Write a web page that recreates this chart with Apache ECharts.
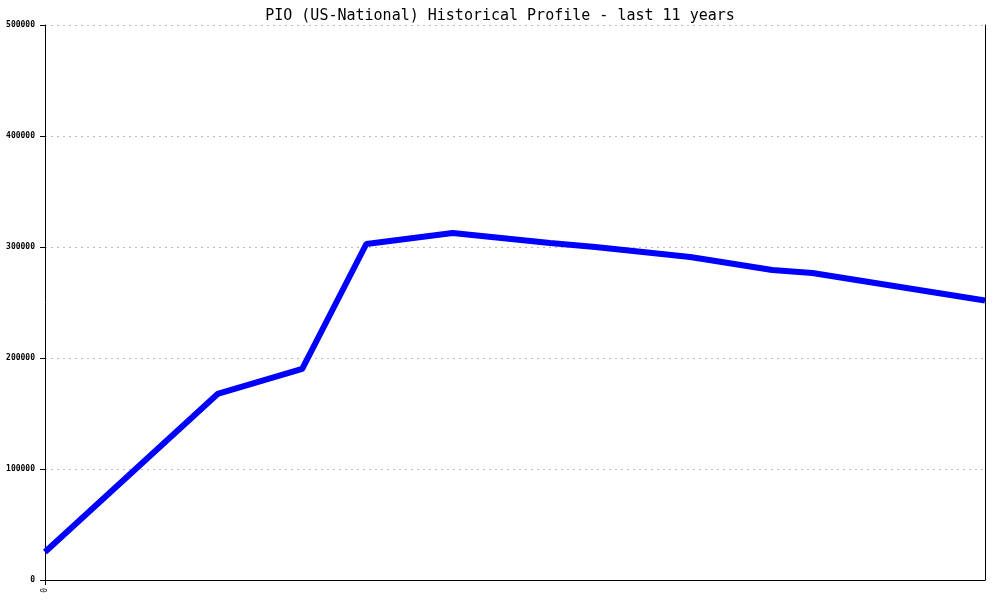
<!DOCTYPE html>
<html>
<head>
<meta charset="utf-8">
<script src="https://cdn.jsdelivr.net/npm/echarts@6/dist/echarts.min.js"></script>
<style>html,body{margin:0;padding:0;background:#fff}#c{width:1000px;height:600px}</style>
</head>
<body>
<div id="c"></div>
<script>
const titleText = 'PIO (US-National) Historical Profile - last 11 years';
// x in years since start, y values
const xYears = [0, 2.02, 3.01, 3.76, 4.77, 5.91, 6.44, 7.55, 8.51, 8.98, 11];
const yValues = [25200, 167600, 190100, 302700, 312600, 303600, 300000, 291000, 279300, 276600, 251800];
const yTicks = [0, 100000, 200000, 300000, 400000, 500000];

const chart = echarts.init(document.getElementById('c'), null, {renderer: 'canvas'});
const mono = 'DejaVu Sans Mono';
chart.setOption({
  animation: false,
  backgroundColor: '#ffffff',
  title: {
    text: titleText, left: 'center', top: 4,
    textStyle: {fontFamily: mono, fontSize: 15, fontWeight: 'normal', color: '#000'}
  },
  grid: {left: 45, right: 15, top: 25, bottom: 20, containLabel: false},
  xAxis: {
    type: 'value', min: 0, max: 11, interval: 11,
    axisLine: {show: true, lineStyle: {color: '#000', width: 1}},
    axisTick: {show: true, length: 5, customValues: [0], lineStyle: {color: '#000'}},
    splitLine: {show: false},
    axisLabel: {
      rotate: 90, fontFamily: mono, fontSize: 8, color: '#000', margin: 8,
      customValues: [0],
      formatter: v => v === 0 ? '0' : ''
    }
  },
  yAxis: [{
    type: 'value', min: yTicks[0], max: yTicks[yTicks.length - 1], interval: 100000,
    axisLine: {show: true, lineStyle: {color: '#000', width: 1}},
    axisTick: {show: true, length: 5, lineStyle: {color: '#000'}},
    splitLine: {show: true, lineStyle: {color: '#bbbbbb', type: [2, 4], width: 1}},
    axisLabel: {fontFamily: mono, fontSize: 8, fontWeight: 'bold', color: '#000', margin: 10,
      formatter: v => String(v)}
  }, {
    type: 'value', min: 0, max: 500000, position: 'right',
    axisLine: {show: true, lineStyle: {color: '#000', width: 1}},
    axisTick: {show: false}, axisLabel: {show: false}, splitLine: {show: false}
  }],
  series: [{
    type: 'line',
    data: xYears.map((x, i) => [x, yValues[i]]),
    showSymbol: false,
    lineStyle: {color: '#0000ff', width: 6},
    itemStyle: {color: '#0000ff'},
    clip: true
  }]
});
</script>
</body>
</html>
